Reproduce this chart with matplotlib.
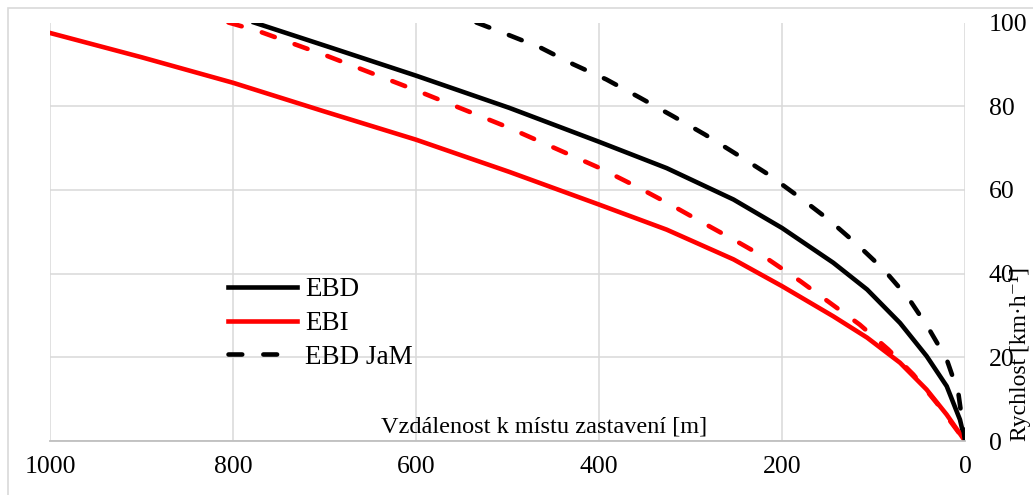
import matplotlib.pyplot as plt
from matplotlib.patches import Rectangle

plt.rcParams['font.family'] = ['Liberation Serif', 'DejaVu Serif']

# EBD (black solid)
ebd_d = [777, 693, 600, 498, 400, 326, 253, 200, 144, 107, 71, 42, 20, 5.5, 0]
ebd_v = [100, 94, 87.3, 79.6, 71.5, 65.2, 57.7, 50.9, 42.6, 36.2, 28.2, 20.3, 13.1, 5.1, 0]

# EBI (red solid)
ebi_d = [1000, 900, 800, 701, 600, 498, 400, 326, 253, 200, 144, 107, 71, 42, 20, 0]
ebi_v = [97.5, 91.7, 85.6, 78.8, 72, 64.3, 56.5, 50.5, 43.4, 37, 29.8, 24.7, 18.7, 12.3, 6.3, 0]

# red dashed (no legend entry)
ebi2_d = [805, 773, 697, 600, 500, 400, 359, 322, 286, 249.5, 215, 180, 147.5, 115, 84, 56.5, 31, 0]
ebi2_v = [100, 98, 92, 83.8, 75, 65.3, 60.8, 56.5, 52.1, 47.7, 43.4, 38.2, 33, 27.8, 21.9, 15.9, 9.1, 0]

# EBD JaM (black dashed)
jam_d = [534, 502, 464, 428, 392, 355, 319, 284, 249.5, 215, 180, 149, 118, 89, 62, 40, 20, 7.3, 0]
jam_v = [100, 97.3, 94, 90, 86.4, 82, 77.6, 73.2, 68.5, 63.7, 58.1, 52.9, 47, 41, 34.2, 27, 19.5, 11.5, 0]

xticks = [1000, 800, 600, 400, 200, 0]
yticks = [0, 20, 40, 60, 80, 100]

fig = plt.figure(figsize=(10.33, 4.95), dpi=100)
ax = fig.add_axes([50/1033, 1 - 441/495, 915/1033, (441 - 22.5)/495])

lw = 3.3
dash = (3.0, 4.6)
ax.plot(ebd_d, ebd_v, c='black', lw=lw, label='EBD', solid_joinstyle='round')
ax.plot(ebi_d, ebi_v, c='red', lw=lw, label='EBI', solid_joinstyle='round')
ax.plot(ebi2_d, ebi2_v, c='red', lw=lw, dashes=dash, dash_capstyle='round')
ax.plot(jam_d, jam_v, c='black', lw=lw, dashes=dash, dash_capstyle='round', label='EBD JaM')

ax.set_xlim(1000, 0)
ax.set_ylim(0, 100)
ax.set_xticks(xticks)
ax.set_yticks(yticks)
ax.yaxis.tick_right()
ax.tick_params(axis='both', length=0, labelsize=18.5)
ax.tick_params(axis='x', pad=11)
ax.tick_params(axis='y', pad=17)
ax.grid(True, color='#d9d9d9', lw=1.1)
ax.set_axisbelow(True)
for s in ['top', 'left', 'right']:
    ax.spines[s].set_visible(False)
ax.spines['bottom'].set_color('#bfbfbf')
ax.spines['bottom'].set_linewidth(1.3)

ax.text(0.54, 0.008, 'Vzdálenost k místu zastavení [m]', transform=ax.transAxes,
        ha='center', va='bottom', fontsize=17.5)
ax.text(1.06, 0.0, 'Rychlost [km·h⁻¹]', transform=ax.transAxes, rotation=90,
        ha='center', va='bottom', fontsize=17)

ax.legend(loc='upper left', bbox_to_anchor=(0.168, 0.449), frameon=False, fontsize=19.5,
          handlelength=2.55, handletextpad=0.3, labelspacing=0.32)

fig.patches.append(Rectangle((8/1033, -0.1), 2, 1 - 8/495 + 0.1, transform=fig.transFigure,
                             fill=False, ec='#d9d9d9', lw=1.2))

plt.savefig('out.png', dpi=100)
